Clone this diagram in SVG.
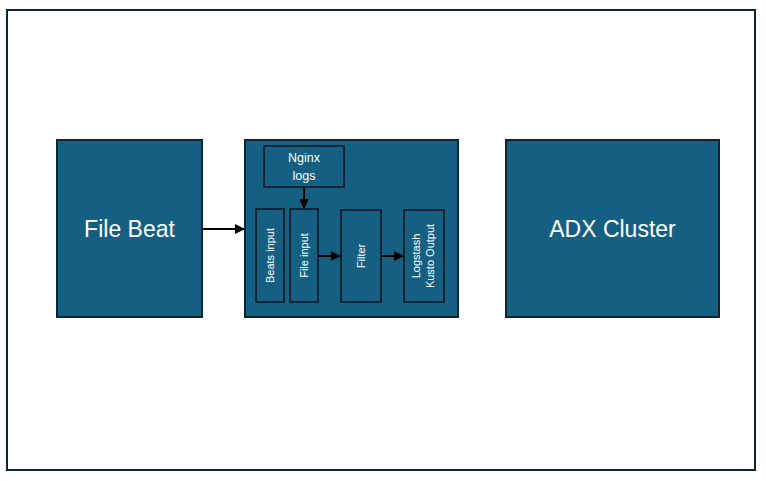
<svg xmlns="http://www.w3.org/2000/svg" width="766" height="481" viewBox="0 0 766 481">
<defs>
<style>
.box{fill:#156082;stroke:#0a2633;stroke-width:2}
.big{font-family:"Liberation Sans",Arial,sans-serif;font-size:23px;fill:#ffffff;text-anchor:middle;dominant-baseline:central}
.sm{font-family:"Liberation Sans",Arial,sans-serif;font-size:11px;fill:#ffffff;text-anchor:middle}
.md{font-family:"Liberation Sans",Arial,sans-serif;font-size:12.5px;fill:#ffffff;text-anchor:middle}
.ln{stroke:#000000;stroke-width:2;fill:none}
</style>
<marker id="ah" viewBox="0 0 10 10" refX="9" refY="5" markerWidth="5" markerHeight="5" orient="auto" markerUnits="strokeWidth">
<path d="M0,0 L10,5 L0,10 z" fill="#000000"/>
</marker>
</defs>
<rect x="0" y="0" width="766" height="481" fill="#ffffff"/>
<rect x="7" y="10" width="748" height="460" fill="none" stroke="#0a2633" stroke-width="2"/>
<g id="filebeat">
<rect class="box" x="57" y="140" width="145" height="177"/>
<text class="big" x="129.5" y="229">File Beat</text>
</g>
<g id="logstash-container">
<rect class="box" x="245" y="140" width="213" height="177"/>
</g>
<g id="nginx">
<rect class="box" x="264" y="146" width="80" height="41"/>
<text class="md" x="304" y="162">Nginx</text>
<text class="md" x="304" y="180">logs</text>
</g>
<g id="beats-input">
<rect class="box" x="256" y="209" width="28" height="93"/>
<text class="sm" transform="translate(274,255.5) rotate(-90)">Beats input</text>
</g>
<g id="file-input">
<rect class="box" x="290" y="209" width="28" height="93"/>
<text class="sm" transform="translate(308,255.5) rotate(-90)">File input</text>
</g>
<g id="filter">
<rect class="box" x="341" y="210" width="40" height="92"/>
<text class="sm" transform="translate(365,256) rotate(-90)">Filter</text>
</g>
<g id="kusto-output">
<rect class="box" x="404" y="210" width="40" height="92"/>
<text class="sm" transform="translate(420,256) rotate(-90)">Logstash</text>
<text class="sm" transform="translate(434,256) rotate(-90)">Kusto Output</text>
</g>
<g id="adx">
<rect class="box" x="506" y="140" width="213" height="177"/>
<text class="big" x="612.5" y="229">ADX Cluster</text>
</g>
<g id="connectors">
<line class="ln" x1="202" y1="229" x2="244" y2="229" marker-end="url(#ah)"/>
<line class="ln" x1="304" y1="187" x2="304" y2="208" marker-end="url(#ah)"/>
<line class="ln" x1="318" y1="256" x2="340" y2="256" marker-end="url(#ah)"/>
<line class="ln" x1="381" y1="256" x2="403" y2="256" marker-end="url(#ah)"/>
</g>
</svg>
